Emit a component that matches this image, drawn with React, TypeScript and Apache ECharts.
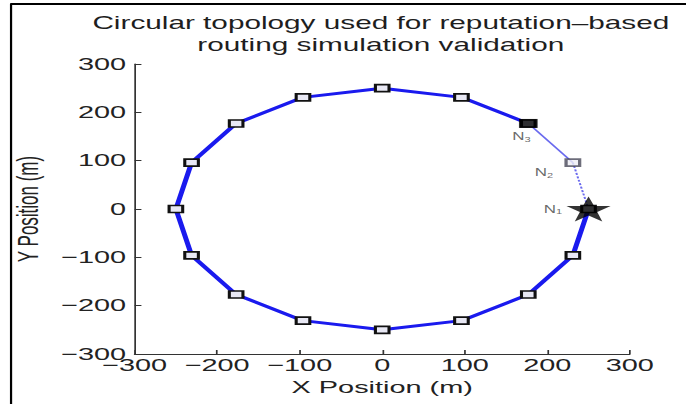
import React, { useEffect, useRef } from "react";
import * as echarts from "echarts";

// Node positions (m) along the main route, from N1 clockwise round to N3
const routeX = [250, 231, 177, 96, 0, -96, -177, -231, -250, -231, -177, -96, 0, 96, 177];
const routeY = [0, -96, -177, -231, -250, -231, -177, -96, 0, 96, 177, 231, 250, 231, 177];
// Labelled nodes
const nodeNames = ["1", "2", "3"];
const nodeX = [250, 231, 177];
const nodeY = [0, 96, 177];
// Axis ticks
const axisMin = -300;
const axisMax = 300;
const axisStep = 100;
const titleLines = ["Circular topology used for reputation\u2013based", "routing simulation validation"];
const xName = "X Position (m)";
const yName = "Y Position (m)";

const STRETCH = 1.7;
const W = 686;
const H = 404;
const IW = W / STRETCH;

const FONT = "'Liberation Sans', Arial, Helvetica, sans-serif";
const STAR = "path://M12,0 L14.9,8.1 L23.4,8.1 L16.5,13.1 L19.1,21.2 L12,16.2 L4.9,21.2 L7.5,13.1 L0.6,8.1 L9.1,8.1 Z";

const fmt = (v: number) => (v < 0 ? "\u2212" + Math.abs(v) : String(v));

export default function App() {
  const ref = useRef<HTMLDivElement>(null);
  useEffect(() => {
    document.body.style.margin = "0";
    if (!ref.current) return;
    const chart = echarts.init(ref.current, undefined, { renderer: "svg" });
    const routeData = routeX.map((x, i) => [x, routeY[i]]);
    const labelOffsets: Record<string, number[]> = { "1": [-21, 0], "2": [-17, 10], "3": [-4, 13] };
    const nodeStyles: Record<string, any> = {
      "1": { symbol: STAR, symbolSize: [26, 25], itemStyle: { color: "#000", borderColor: "#000", borderWidth: 0 } },
      "2": { symbol: "rect", symbolSize: [8, 7], itemStyle: { color: "#eeeef4", borderColor: "#4a4a5a", borderWidth: 1.8 } },
      "3": { symbol: "rect", symbolSize: [11, 9], itemStyle: { color: "#000", borderColor: "#000", borderWidth: 0 } },
    };
    const nodeData = nodeNames.map((n, i) => ({
      name: n,
      value: [nodeX[i], nodeY[i]],
      ...nodeStyles[n],
      label: {
        show: true,
        position: "inside",
        offset: labelOffsets[n],
        formatter: `{n|N}{s|${n}}`,
        rich: {
          n: { fontSize: 10, color: "#444", fontFamily: FONT },
          s: { fontSize: 6.5, color: "#444", fontFamily: FONT, verticalAlign: "bottom", padding: [6, 0, 0, 0] },
        },
      },
    }));
    const axisCommon = {
      type: "value",
      min: axisMin,
      max: axisMax,
      interval: axisStep,
      splitLine: { show: false },
      axisLine: { show: true, onZero: false, lineStyle: { color: "#333", width: 1 } },
      axisTick: { show: true, inside: true, length: 4, lineStyle: { color: "#333" } },
      nameLocation: "middle",
      nameTextStyle: { fontSize: 17, color: "#222", fontFamily: FONT },
    };
    chart.setOption({
      animation: false,
      backgroundColor: "#fff",
      grid: { left: 78.2, right: IW - 370, top: 64, bottom: 50, containLabel: false },
      xAxis: {
        ...axisCommon,
        name: xName,
        nameGap: 20,
        axisLabel: { formatter: fmt, fontSize: 17, color: "#222", fontFamily: FONT, margin: 3 },
      },
      yAxis: {
        ...axisCommon,
        name: yName,
        nameGap: 49,
        axisLabel: { formatter: fmt, fontSize: 17, color: "#222", fontFamily: FONT, margin: 5 },
      },
      graphic: [
        { type: "line", shape: { x1: 6.5, y1: 4, x2: 6.5, y2: H }, style: { stroke: "#000", lineWidth: 1.3 } },
        { type: "line", shape: { x1: 6, y1: 4, x2: IW, y2: 4 }, style: { stroke: "#000", lineWidth: 2 } },
        {
          type: "text",
          x: 224,
          y: 23,
          style: { text: titleLines[0], fontSize: 17.5, fontFamily: FONT, fill: "#1e1e1e", textAlign: "center", textVerticalAlign: "middle" },
        },
        {
          type: "text",
          x: 224,
          y: 45,
          style: { text: titleLines[1], fontSize: 17.5, fontFamily: FONT, fill: "#1e1e1e", textAlign: "center", textVerticalAlign: "middle" },
        },
      ],
      series: [
        {
          type: "line",
          data: routeData,
          lineStyle: { color: "#1a1aee", width: 3 },
          symbol: "rect",
          symbolSize: [8, 7],
          itemStyle: { color: "#e8e8f4", borderColor: "#111", borderWidth: 1.7 },
          z: 2,
        },
        {
          type: "line",
          data: [[nodeX[2], nodeY[2]], [nodeX[1], nodeY[1]]],
          lineStyle: { color: "#6a6aee", width: 1.2 },
          symbol: "none",
          z: 2,
        },
        {
          type: "line",
          data: [[nodeX[1], nodeY[1]], [nodeX[0], nodeY[0]]],
          lineStyle: { color: "#6a6aee", width: 1.2, type: [2, 1.5] },
          symbol: "none",
          z: 2,
        },
        {
          type: "scatter",
          data: nodeData,
          z: 3,
        },
      ],
    });
    return () => chart.dispose();
  }, []);
  return (
    <div style={{ width: W, height: H, overflow: "hidden", background: "#fff", position: "relative" }}>
      <div
        ref={ref}
        style={{ width: IW, height: H, transform: `scaleX(${STRETCH})`, transformOrigin: "0 0" }}
      />
    </div>
  );
}
